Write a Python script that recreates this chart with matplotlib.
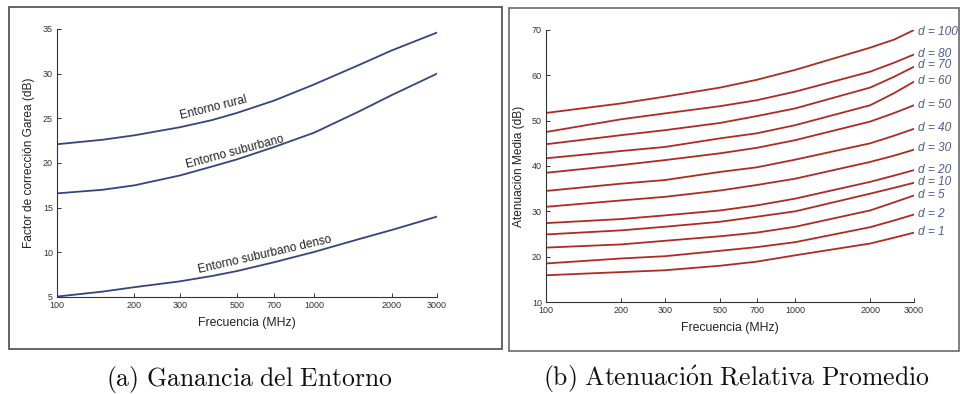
import numpy as np
import matplotlib.pyplot as plt
from matplotlib.patches import Rectangle
from matplotlib.ticker import FixedLocator, NullLocator

# ── Data ────────────────────────────────────────────────────────────────────
freq = [100, 150, 200, 300, 400, 500, 700, 1000, 1500, 2000, 3000]
freq_ticks = [100, 200, 300, 500, 700, 1000, 2000, 3000]

# (a) Garea correction factor (dB)
rural = [22.1, 22.6, 23.1, 24.0, 24.8, 25.6, 27.0, 28.8, 31.0, 32.6, 34.6]
suburban = [16.6, 17.0, 17.5, 18.6, 19.6, 20.4, 21.8, 23.4, 25.8, 27.6, 30.0]
dense_suburban = [5.05, 5.6, 6.1, 6.75, 7.35, 7.9, 8.9, 10.05, 11.5, 12.5, 14.0]
env_labels = ["Entorno rural", "Entorno suburbano", "Entorno suburbano denso"]
env_label_x = [405, 490, 640]
env_label_y = [26.2, 21.2, 9.75]
env_label_rot = [14, 15, 13]

# (b) Mean relative attenuation (dB) for distances d (km)
dist = [1, 2, 5, 10, 20, 30, 40, 50, 60, 70, 80, 100]
freq_b = [100, 200, 300, 500, 700, 1000, 2000, 2500, 3000]
atten = [
    [15.9, 16.6, 17.0, 18.0, 18.9, 20.3, 22.9, 24.2, 25.3],
    [18.5, 19.6, 20.1, 21.3, 22.1, 23.2, 26.5, 28.0, 29.3],
    [22.0, 22.7, 23.5, 24.5, 25.3, 26.6, 30.2, 32.0, 33.5],
    [24.9, 25.8, 26.6, 27.7, 28.8, 30.0, 33.9, 35.2, 36.3],
    [27.4, 28.3, 29.1, 30.2, 31.3, 32.8, 36.5, 37.9, 39.1],
    [31.0, 32.4, 33.2, 34.6, 35.8, 37.2, 40.9, 42.3, 43.6],
    [34.5, 36.1, 36.9, 38.7, 39.7, 41.4, 45.0, 46.7, 48.2],
    [38.5, 40.2, 41.3, 42.8, 44.0, 45.7, 49.8, 51.7, 53.4],
    [41.7, 43.3, 44.2, 46.1, 47.2, 49.0, 53.4, 56.1, 58.6],
    [44.8, 46.8, 47.9, 49.5, 51.0, 52.7, 57.3, 59.7, 61.9],
    [47.5, 50.3, 51.6, 53.2, 54.5, 56.4, 60.8, 62.8, 64.6],
    [51.7, 53.8, 55.3, 57.3, 59.0, 61.2, 66.1, 67.9, 70.0],
]
d_label_y = [25.5, 29.5, 33.7, 36.5, 39.1, 43.9, 48.3, 53.4, 58.7, 62.3, 64.8, 69.5]

# ── Style ───────────────────────────────────────────────────────────────────
plt.rcParams['font.family'] = ['Liberation Sans', 'DejaVu Sans']
plt.rcParams['mathtext.fontset'] = 'cm'

BLUE = '#34457f'
RED = '#b02a22'
LABEL_BLUE = '#4d5b8c'
TXT = '#222222'

fig = plt.figure(figsize=(9.6, 3.94), dpi=100)

# panel frames
fig.add_artist(Rectangle((0.0094, 0.1142), 0.5135, 0.868, transform=fig.transFigure,
                         fill=False, edgecolor='#4a4a4a', linewidth=1.2))
fig.add_artist(Rectangle((0.530, 0.1091), 0.469, 0.8706, transform=fig.transFigure,
                         fill=False, edgecolor='#6a6a6a', linewidth=1.2))


def style_axes(ax, ylo, yhi, yticks):
    ax.set_xscale('log')
    ax.set_xlim(100, 3000)
    ax.set_ylim(ylo, yhi)
    ax.xaxis.set_major_locator(FixedLocator(freq_ticks))
    ax.xaxis.set_minor_locator(NullLocator())
    ax.set_xticklabels([str(f) for f in freq_ticks])
    ax.set_yticks(yticks)
    ax.spines['top'].set_visible(False)
    ax.spines['right'].set_visible(False)
    for s in ('left', 'bottom'):
        ax.spines[s].set_color('#333333')
        ax.spines[s].set_linewidth(0.8)
    ax.tick_params(direction='in', length=3, width=0.7, labelsize=6.5,
                   colors='#333333', pad=3)
    ax.set_xlabel('Frecuencia (MHz)', fontsize=8.8, color=TXT, labelpad=5)


# ── (a) ─────────────────────────────────────────────────────────────────────
ax1 = fig.add_axes([0.0594, 0.2462, 0.3958, 0.6802])
for series in (rural, suburban, dense_suburban):
    ax1.plot(freq, series, color=BLUE, linewidth=1.3)
style_axes(ax1, 5, 35, [5, 10, 15, 20, 25, 30, 35])
ax1.set_ylabel('Factor de corrección Garea (dB)', fontsize=8.6, color=TXT, labelpad=6)
for lab, lx, ly, rot in zip(env_labels, env_label_x, env_label_y, env_label_rot):
    ax1.text(lx, ly, lab, fontsize=8.6, color=TXT, rotation=rot,
             ha='center', va='center', rotation_mode='anchor')

# ── (b) ─────────────────────────────────────────────────────────────────────
ax2 = fig.add_axes([0.5688, 0.2335, 0.3833, 0.6904])
for row in atten:
    ax2.plot(freq_b, row, color=RED, linewidth=1.3)
style_axes(ax2, 10, 70, [10, 20, 30, 40, 50, 60, 70])
ax2.set_ylabel('Atenuación Media (dB)', fontsize=8.6, color=TXT, labelpad=5)
for d, ly in zip(dist, d_label_y):
    ax2.annotate(f'd = {d}', xy=(3000, ly), xytext=(3, 0), textcoords='offset points',
                 fontsize=8.6, style='italic', color=LABEL_BLUE,
                 ha='left', va='center', annotation_clip=False)

# ── captions ────────────────────────────────────────────────────────────────
fig.text(0.26, 0.036, r'$\mathrm{(a)\ Ganancia\ del\ Entorno}$',
         fontsize=18.5, ha='center', va='center', color='#111111')
fig.text(0.767, 0.036, r'$\mathrm{(b)\ Atenuaci\acute{o}n\ Relativa\ Promedio}$',
         fontsize=18.5, ha='center', va='center', color='#111111')

fig.savefig('out.png', dpi=100)
